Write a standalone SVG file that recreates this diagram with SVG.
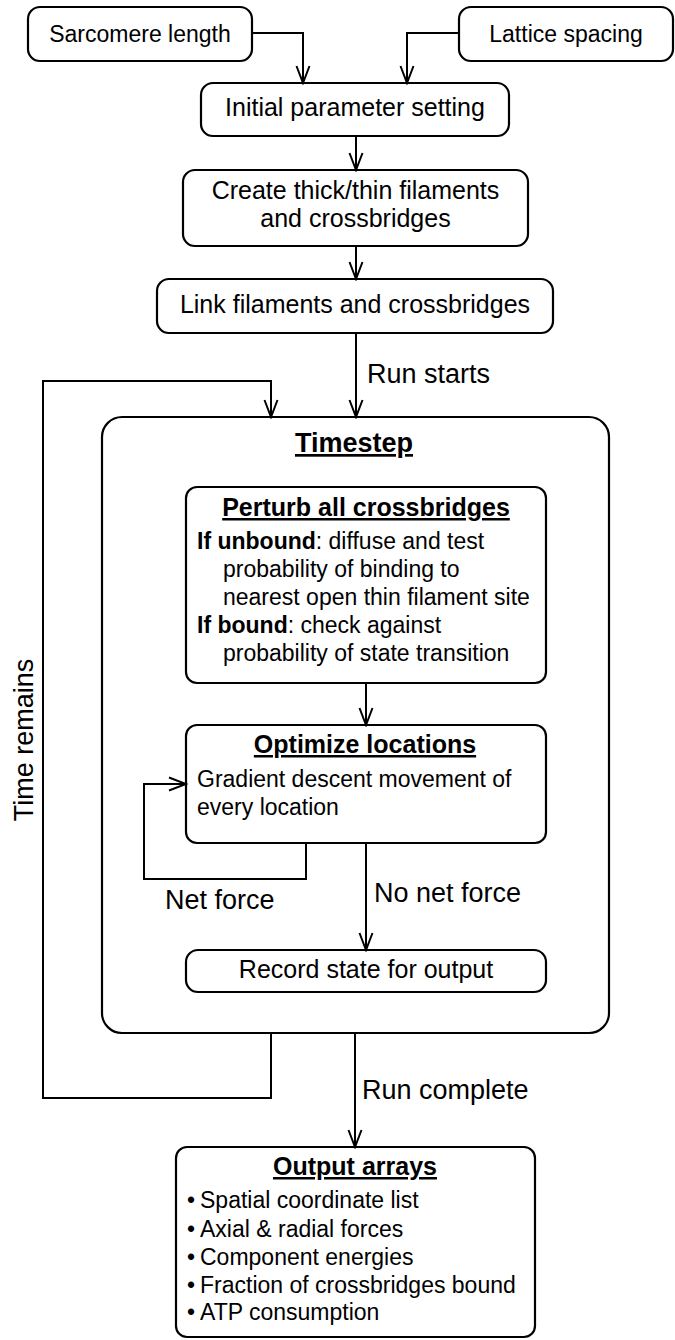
<svg xmlns="http://www.w3.org/2000/svg" width="675" height="1340" viewBox="0 0 675 1340">
<style>
  .box { fill: #fff; stroke: #000; stroke-width: 2.2; }
  .t { font-family: "Liberation Sans", Arial, Helvetica, sans-serif; fill: #000; }
  .s23 { font-size: 23px; }
  .s25 { font-size: 25px; }
  .lab { font-size: 27px; }
  .c { text-anchor: middle; }
  .h { font-weight: bold; text-decoration: underline; }
  .conn { fill: none; stroke: #000; stroke-width: 2; }
</style>
<defs>
  <marker id="arr" markerUnits="userSpaceOnUse" viewBox="0 0 20 16" refX="18" refY="8" markerWidth="20" markerHeight="16" orient="auto">
    <path d="M1,1.5 L18,8 L1,14.5" fill="none" stroke="#000" stroke-width="2"/>
  </marker>
</defs>

<g id="sarcomere">
  <rect class="box" x="28" y="7" width="224" height="54" rx="12"/>
  <text class="t s23 c" x="140" y="42">Sarcomere length</text>
</g>
<g id="lattice">
  <rect class="box" x="459" y="7" width="214" height="54" rx="12"/>
  <text class="t s23 c" x="566" y="42">Lattice spacing</text>
</g>
<g id="initial">
  <rect class="box" x="201" y="83" width="308" height="53" rx="12"/>
  <text class="t s25 c" x="355" y="116">Initial parameter setting</text>
</g>
<g id="create">
  <rect class="box" x="183" y="170" width="345" height="76" rx="12"/>
  <text class="t s25 c" x="355.5" y="199">Create thick/thin filaments</text>
  <text class="t s25 c" x="355.5" y="227">and crossbridges</text>
</g>
<g id="link">
  <rect class="box" x="157" y="279" width="396" height="54" rx="12"/>
  <text class="t s25 c" x="355" y="313">Link filaments and crossbridges</text>
</g>
<g id="timestep">
  <rect class="box" x="102" y="417" width="507" height="616" rx="20"/>
  <text class="t c h" x="354" y="452" font-size="27">Timestep</text>
</g>
<g id="perturb">
  <rect class="box" x="186" y="487" width="360" height="196" rx="11"/>
  <text class="t s25 c h" x="366" y="516">Perturb all crossbridges</text>
  <text class="t s23" x="197" y="549"><tspan font-weight="bold">If unbound</tspan>: diffuse and test</text>
  <text class="t s23" x="223" y="577">probability of binding to</text>
  <text class="t s23" x="223" y="605">nearest open thin filament site</text>
  <text class="t s23" x="197" y="633"><tspan font-weight="bold">If bound</tspan>: check against</text>
  <text class="t s23" x="223" y="661">probability of state transition</text>
</g>
<g id="optimize">
  <rect class="box" x="186" y="725" width="360" height="118" rx="11"/>
  <text class="t s25 c h" x="365" y="753">Optimize locations</text>
  <text class="t s23" x="197" y="787">Gradient descent movement of</text>
  <text class="t s23" x="197" y="815">every location</text>
</g>
<g id="record">
  <rect class="box" x="186" y="950" width="360" height="42" rx="12"/>
  <text class="t s25 c" x="366" y="978">Record state for output</text>
</g>
<g id="output">
  <rect class="box" x="176" y="1147" width="359" height="190" rx="11"/>
  <text class="t s25 c h" x="355" y="1175">Output arrays</text>
  <text class="t s23" x="187" y="1208">•</text><text class="t s23" x="200" y="1208">Spatial coordinate list</text>
  <text class="t s23" x="187" y="1237">•</text><text class="t s23" x="200" y="1237">Axial &amp; radial forces</text>
  <text class="t s23" x="187" y="1265">•</text><text class="t s23" x="200" y="1265">Component energies</text>
  <text class="t s23" x="187" y="1293">•</text><text class="t s23" x="200" y="1293">Fraction of crossbridges bound</text>
  <text class="t s23" x="187" y="1320">•</text><text class="t s23" x="200" y="1320">ATP consumption</text>
</g>

<g id="connectors">
  <path class="conn" d="M252,33 H303 V83" marker-end="url(#arr)"/>
  <path class="conn" d="M459,33 H407 V83" marker-end="url(#arr)"/>
  <path class="conn" d="M356,136 V170" marker-end="url(#arr)"/>
  <path class="conn" d="M356,246 V279" marker-end="url(#arr)"/>
  <path class="conn" d="M356,333 V417" marker-end="url(#arr)"/>
  <path class="conn" d="M271,1033 V1098 H43 V381 H271 V417" marker-end="url(#arr)"/>
  <path class="conn" d="M366,683 V725" marker-end="url(#arr)"/>
  <path class="conn" d="M306,843 V879 H144 V784 H186" marker-end="url(#arr)"/>
  <path class="conn" d="M366,843 V950" marker-end="url(#arr)"/>
  <path class="conn" d="M355,1033 V1147" marker-end="url(#arr)"/>
  <text class="t lab" x="367" y="383">Run starts</text>
  <text class="t lab" x="165" y="909">Net force</text>
  <text class="t lab" x="374" y="902">No net force</text>
  <text class="t lab" x="362" y="1099">Run complete</text>
  <text class="t lab c" x="33" y="740" transform="rotate(-90 33 740)">Time remains</text>
</g>
</svg>
